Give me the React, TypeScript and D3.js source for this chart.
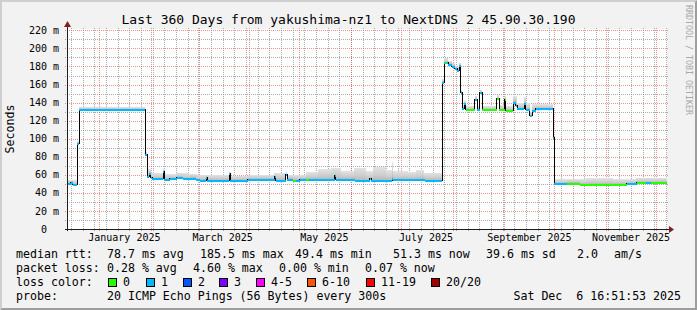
import React from 'react';
import * as d3 from 'd3';

// ---------- data ----------
const START = '2024-12-12T14';
const END = '2025-12-07T14';

const medianTimes = [
  '2024-12-12T14', '2024-12-14T23', '2024-12-16T04', '2024-12-18T18', '2024-12-19T23',
  '2025-01-28T13', '2025-01-29T18', '2025-01-30T23', '2025-01-31T19', '2025-02-01T19',
  '2025-02-08T09', '2025-02-08T23', '2025-02-12T09', '2025-02-16T09', '2025-02-20T04',
  '2025-02-24T09', '2025-02-27T23', '2025-03-02T09', '2025-03-06T04', '2025-03-06T18',
  '2025-03-19T19', '2025-03-20T16', '2025-03-31T04', '2025-04-16T04', '2025-04-16T23',
  '2025-04-22T19', '2025-04-23T14', '2025-04-27T04', '2025-05-01T09', '2025-05-22T04',
  '2025-05-22T23', '2025-06-03T09', '2025-06-12T09', '2025-06-13T04', '2025-06-25T14',
  '2025-06-26T04', '2025-07-10T14', '2025-07-15T09', '2025-07-25T19', '2025-07-26T23',
  '2025-07-29T09', '2025-07-31T09', '2025-08-02T09', '2025-08-03T19', '2025-08-04T23',
  '2025-08-05T19', '2025-08-06T19', '2025-08-07T23', '2025-08-08T19', '2025-08-14T09',
  '2025-08-15T19', '2025-08-17T09', '2025-08-18T19', '2025-08-27T09', '2025-08-28T23',
  '2025-09-01T09', '2025-09-01T23', '2025-09-06T09', '2025-09-07T19', '2025-09-08T19',
  '2025-09-12T19', '2025-09-13T19', '2025-09-16T09', '2025-09-17T19', '2025-09-19T19',
  '2025-09-30T09', '2025-09-30T23', '2025-10-08T09', '2025-10-16T09', '2025-11-13T09',
  '2025-11-19T09',
];
const medianValues = [
  51, 52.5, 49.6, 95.5, 132.5,
  82.7, 59, 61.5, 57.5, 56,
  64, 55, 56, 57.5, 56,
  57, 55, 54.5, 58, 54.3,
  61.5, 54.3, 55.3, 58.5, 54.5,
  61, 55.5, 54.3, 55.5, 59.5,
  55.4, 54, 56, 54.3, 56.5,
  55, 55.4, 54.3, 163, 184.6,
  182.7, 180.9, 177.9, 176.1, 181.6,
  152.1, 133.6, 139, 132.5, 144,
  132.5, 151.5, 132.5, 144.7, 132.5,
  143.6, 131.8, 141, 137.3, 133.6,
  139.2, 132.5, 126.2, 131.8, 133.6,
  101.5, 50.6, 51.3, 49.8, 50.6,
  51.5,
];

const lossTimes = [
  '2024-12-12T14', '2025-04-27T04', '2025-04-29T00', '2025-05-05T00', '2025-05-07T00',
  '2025-07-27T12', '2025-07-28T12', '2025-08-08T19', '2025-08-14T09', '2025-08-18T19',
  '2025-09-06T09', '2025-10-08T09', '2025-11-13T09', '2025-11-19T09', '2025-11-25T00',
  '2025-11-28T00',
];
const lossLevels = [1, 0, 1, 0, 1, 0, 1, 0, 1, 0, 1, 0, 1, 0, 1, 0];

const smokeTimes = [
  '2024-12-12T14', '2024-12-18T18', '2024-12-19T23', '2025-01-28T13', '2025-01-29T18',
  '2025-01-31T19', '2025-02-08T09', '2025-02-08T23', '2025-02-16T00', '2025-02-24T00',
  '2025-03-02T00', '2025-03-19T19', '2025-03-20T16', '2025-03-31T00', '2025-04-16T00',
  '2025-04-22T19', '2025-04-23T14', '2025-05-05T00', '2025-05-12T00', '2025-05-20T00',
  '2025-05-26T00', '2025-06-03T00', '2025-06-10T00', '2025-06-14T00', '2025-06-22T00',
  '2025-06-25T14', '2025-06-26T04', '2025-07-05T00', '2025-07-10T00', '2025-07-15T00',
  '2025-07-25T19', '2025-07-26T23', '2025-07-29T09', '2025-07-31T09', '2025-08-02T09',
  '2025-08-03T19', '2025-08-04T23', '2025-08-05T19', '2025-08-06T19', '2025-08-07T23',
  '2025-08-08T19', '2025-08-14T09', '2025-08-15T19', '2025-08-17T09', '2025-08-18T19',
  '2025-08-27T09', '2025-08-28T23', '2025-09-01T09', '2025-09-01T23', '2025-09-06T09',
  '2025-09-08T19', '2025-09-12T19', '2025-09-13T19', '2025-09-16T09', '2025-09-17T19',
  '2025-09-30T09', '2025-09-30T23', '2025-10-20T00', '2025-11-05T00', '2025-11-19T00',
];
const smokeTops = [
  54, 97, 135, 85, 66, 62, 66, 61, 62, 61,
  60, 63, 59, 60, 62, 63, 60, 63, 66, 68,
  64, 68, 64, 69, 65, 74, 64, 63, 65, 62,
  166, 189, 186, 184, 181, 179, 184, 154, 137, 142,
  136, 147, 136, 154, 136, 148, 137, 147, 136, 147,
  140, 146, 139, 130, 138, 104, 55, 56, 55, 57,
];

const yTicks = [0, 20, 40, 60, 80, 100, 120, 140, 160, 180, 200, 220];
const yMinorTicks = [10, 30, 50, 70, 90, 110, 130, 150, 170, 190, 210];
const xLabelMonths = ['2025-01', '2025-03', '2025-05', '2025-07', '2025-09', '2025-11'];

const LOSS_COLORS = ['#26ff00', '#00b8ff', '#0059ff', '#7e00ff', '#ff00ff', '#ff5500', '#ff0000', '#a10000'];
const LOSS_LABELS = ['0', '1', '2', '3', '4-5', '6-10', '11-19', '20/20'];

const TITLE = 'Last 360 Days from yakushima-nz1 to NextDNS 2 45.90.30.190';
const RTT_STATS = ['78.7 ms avg', '185.5 ms max', '49.4 ms min', '51.3 ms now', '39.6 ms sd', '2.0', 'am/s'];
const LOSS_STATS = ['0.28 % avg', '4.60 % max', '0.00 % min', '0.07 % now'];
const PROBE_TEXT = '20 ICMP Echo Pings (56 Bytes) every 300s';
const DATE_TEXT = 'Sat Dec  6 16:51:53 2025';

// ---------- layout ----------
const W = 697, H = 310;
const X0 = 67, X1 = 667, Y0 = 229, Y1 = 29;
const Y_MAX = 221.5;
const MONO = '"DejaVu Sans Mono", monospace';

const parse = d3.timeParse('%Y-%m-%dT%H');
const parseMonth = d3.timeParse('%Y-%m');

function stepAt(times: Date[], vals: number[], t: number) {
  const i = d3.bisectRight(times.map((d) => +d), t) - 1;
  return vals[Math.max(0, i)];
}

export default function App() {
  const start = parse(START)!;
  const end = parse(END)!;
  const x = d3.scaleTime().domain([start, end]).range([X0, X1]);
  const y = d3.scaleLinear().domain([0, Y_MAX]).range([Y0, Y1]);

  const mT = medianTimes.map((s) => parse(s)!);
  const lT = lossTimes.map((s) => parse(s)!);
  const sT = smokeTimes.map((s) => parse(s)!);

  const bps = Array.from(new Set([...mT, ...lT, ...sT, end].map((d) => +d)))
    .filter((t) => t >= +start && t <= +end)
    .sort((a, b) => a - b);
  const segs = [] as { x0: number; x1: number; med: number; loss: number; smoke: number }[];
  for (let i = 0; i < bps.length - 1; i++) {
    const t = bps[i];
    segs.push({
      x0: x(new Date(t)),
      x1: x(new Date(bps[i + 1])),
      med: stepAt(mT, medianValues, t),
      loss: stepAt(lT, lossLevels, t),
      smoke: stepAt(sT, smokeTops, t),
    });
  }

  const linePts: [number, number][] = mT.map((d, i) => [x(d), Math.round(y(medianValues[i])) + 0.5]);
  linePts.push([x(end), Math.round(y(medianValues[medianValues.length - 1])) + 0.5]);
  const medLine = d3.line().curve(d3.curveStepAfter)(linePts) || '';

  const weeks = d3.timeSunday.range(start, end);
  const months = d3.timeMonth.range(start, end);

  const gridColor = 'rgba(143,143,143,0.75)';
  const mgridColor = 'rgba(222,79,79,0.6)';

  return (
    <svg width={W} height={H} style={{ position: 'absolute', left: 0, top: 0, display: 'block' }}
      xmlns="http://www.w3.org/2000/svg">
      <defs>
        <linearGradient id="smoke" x1="0" y1="1" x2="0" y2="0">
          <stop offset="0" stopColor="#b9b9b9" />
          <stop offset="0.35" stopColor="#cdcdcd" />
          <stop offset="1" stopColor="#e3e3e3" />
        </linearGradient>
      </defs>
      <rect x={0} y={0} width={W} height={H} fill="#f2f2f2" />
      <polygon points={`0,0 ${W},0 ${W - 2},2 2,2 2,${H - 2} 0,${H}`} fill="#cfcfcf" />
      <polygon points={`${W},0 ${W},${H} 0,${H} 2,${H - 2} ${W - 2},${H - 2} ${W - 2},2`} fill="#9e9e9e" />
      <rect x={X0} y={Y1} width={X1 - X0} height={Y0 - Y1} fill="#ffffff" />

      <g shapeRendering="crispEdges">
        {yMinorTicks.map((v) => (
          <line key={'hm' + v} x1={X0 - 2} x2={X1 + 2} y1={Math.round(y(v)) + 0.5} y2={Math.round(y(v)) + 0.5}
            stroke={gridColor} strokeDasharray="1,1" />
        ))}
        {weeks.map((d) => (
          <line key={'vm' + +d} x1={Math.round(x(d)) + 0.5} x2={Math.round(x(d)) + 0.5} y1={Y0 + 2} y2={Y1 - 2}
            stroke={gridColor} strokeDasharray="1,1" />
        ))}
        {yTicks.filter((v) => v > 0).map((v) => (
          <line key={'hM' + v} x1={X0 - 2} x2={X1 + 2} y1={Math.round(y(v)) + 0.5} y2={Math.round(y(v)) + 0.5}
            stroke={mgridColor} strokeDasharray="1,1" />
        ))}
        {months.map((d) => (
          <line key={'vM' + +d} x1={Math.round(x(d)) + 0.5} x2={Math.round(x(d)) + 0.5} y1={Y0 + 2} y2={Y1 - 2}
            stroke={mgridColor} strokeDasharray="1,1" />
        ))}
      </g>

      <g shapeRendering="crispEdges">
        {segs.map((s, i) => (
          <rect key={'s' + i} x={s.x0} width={Math.max(0, s.x1 - s.x0)} y={y(s.smoke)}
            height={Math.max(0, y(s.med) - y(s.smoke))} fill="url(#smoke)" />
        ))}
      </g>

      <path d={medLine} fill="none" stroke="#000" strokeWidth={1} shapeRendering="crispEdges" />
      <g shapeRendering="crispEdges">
        {segs.map((s, i) => (
          <rect key={'m' + i} x={s.x0} width={Math.max(0, s.x1 - s.x0)} y={Math.round(y(s.med)) - 0.5}
            height={2} fill={LOSS_COLORS[s.loss]} />
        ))}
      </g>

      <g shapeRendering="crispEdges">
        <line x1={X0 + 0.5} x2={X0 + 0.5} y1={Y0 + 2} y2={Y1 - 4} stroke="#1f1f1f" />
        <line x1={X0 - 2} x2={X1 + 4} y1={Y0 + 0.5} y2={Y0 + 0.5} stroke="#1f1f1f" />
      </g>
      <polygon points={`${X0 + 0.5},${Y1 - 8} ${X0 - 3},${Y1 - 2} ${X0 + 4},${Y1 - 2}`} fill="#801f1f" />
      <polygon points={`${X1 + 7},${Y0 + 0.5} ${X1 + 2},${Y0 - 3} ${X1 + 2},${Y0 + 4}`} fill="#801f1f" />

      <g fontFamily={MONO} fontSize={10} fill="#000">
        {yTicks.map((v) => (
          <text key={'yl' + v} x={v === 0 ? 47 : 59} y={y(v) + 3.6} textAnchor="end">
            {v === 0 ? '0' : `${v} m`}
          </text>
        ))}
        {xLabelMonths.map((m) => {
          const d = parseMonth(m)!;
          const mid = d3.timeDay.offset(d, 15);
          return (
            <text key={'xl' + m} x={x(mid)} y={240.5} textAnchor="middle">
              {d3.timeFormat('%B %Y')(d)}
            </text>
          );
        })}
      </g>

      <text x={W / 2} y={24} textAnchor="middle" fontFamily={MONO} fontSize={13} fill="#000">{TITLE}</text>

      <text transform={`translate(14,${(Y0 + Y1) / 2}) rotate(-90)`} textAnchor="middle" fontFamily={MONO}
        fontSize={11.6} fill="#000">Seconds</text>

      <text transform={`translate(686,5) rotate(90)`} fontFamily={MONO} fontSize={8.3} fill="#a8a8a8">
        RRDTOOL / TOBI OETIKER
      </text>

      <g fontFamily={MONO} fontSize={11.6} fill="#000" style={{ whiteSpace: 'pre' }}>
        <text x={16} y={258}>median rtt:</text>
        {RTT_STATS.map((t, i) => (
          <text key={'r' + i} x={[107, 200, 295, 393, 486, 577, 614][i]} y={258}>{t}</text>
        ))}
        <text x={16} y={272}>packet loss:</text>
        {LOSS_STATS.map((t, i) => (
          <text key={'p' + i} x={[107, 193, 279, 365][i]} y={272}>{t}</text>
        ))}
        <text x={16} y={286}>loss color:</text>
        {LOSS_LABELS.map((t, i) => {
          const bx = [108, 146, 183, 219, 256, 307, 366, 431][i];
          return (
            <g key={'lc' + i}>
              <rect x={bx + 0.5} y={278.5} width={8} height={8} fill={LOSS_COLORS[i]} stroke="#000" />
              <text x={bx + 15} y={286}>{t}</text>
            </g>
          );
        })}
        <text x={16} y={300}>probe:</text>
        <text x={107} y={300}>{PROBE_TEXT}</text>
        <text x={681} y={300} textAnchor="end" xmlSpace="preserve">{DATE_TEXT}</text>
      </g>
    </svg>
  );
}
